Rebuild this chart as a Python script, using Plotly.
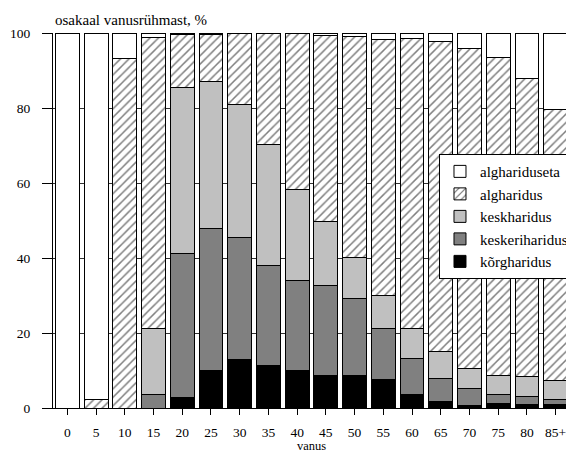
import plotly.graph_objects as go

vanus = ["0", "5", "10", "15", "20", "25", "30", "35", "40", "45",
         "50", "55", "60", "65", "70", "75", "80", "85+"]

korgharidus = [0, 0, 0, 0, 2.7, 9.9, 12.9, 11.3, 9.9, 8.8,
               8.6, 7.6, 3.7, 1.8, 0.6, 1.2, 1.0, 0.9]
keskeriharidus = [0, 0, 0, 3.7, 38.4, 38.0, 32.5, 26.7, 24.2, 23.8,
                  20.6, 13.6, 9.6, 6.2, 4.6, 2.5, 2.0, 1.4]
keskharidus = [0, 0, 0, 17.6, 44.5, 39.1, 35.5, 32.3, 24.1, 17.2,
               10.9, 8.9, 7.9, 7.0, 5.3, 5.1, 5.5, 5.1]
algharidus = [0, 2.2, 93.2, 77.6, 14.0, 12.7, 18.9, 29.6, 41.6, 49.6,
              59.1, 68.1, 77.3, 82.7, 85.5, 84.7, 79.4, 72.3]
alghariduseta = [100, 97.8, 6.8, 1.1, 0.4, 0.3, 0.2, 0.1, 0.2, 0.6,
                 0.8, 1.8, 1.5, 2.3, 4.0, 6.5, 12.1, 20.3]

FONT = "Liberation Serif, Times New Roman, serif"

fig = go.Figure()

series = [
    ("kõrgharidus", korgharidus, "#000000", None),
    ("keskeriharidus", keskeriharidus, "#808080", None),
    ("keskharidus", keskharidus, "#c0c0c0", None),
    ("algharidus", algharidus, "#ffffff", "/"),
    ("alghariduseta", alghariduseta, "#ffffff", None),
]

for i, (name, vals, color, hatch) in enumerate(series):
    marker = dict(color=color, line=dict(color="black", width=1))
    if hatch:
        marker["pattern"] = dict(shape=hatch, fgcolor="black", bgcolor="white",
                                 size=6, solidity=0.25)
    fig.add_trace(go.Bar(x=vanus, y=vals, name=name, marker=marker,
                         legendgroup=f"g{i}"))

# page body has an 8px margin, so the figure is a bit smaller than the window
fig.update_layout(
    width=566, height=447,
    margin=dict(l=45, r=0, t=25, b=47),
    barmode="stack",
    bargap=0.17,
    plot_bgcolor="white",
    paper_bgcolor="white",
    font=dict(family=FONT, size=13.5, color="black"),
    showlegend=True,
    legend=dict(
        x=0.7466, y=0.677, xanchor="left", yanchor="top",
        traceorder="reversed",
        bgcolor="white", bordercolor="black", borderwidth=1,
        tracegroupgap=10,
        font=dict(family=FONT, size=15),
    ),
    annotations=[
        dict(text="osakaal vanusrühmast, %", xref="paper", yref="paper",
             x=0, y=1.0, yshift=3, xanchor="left", yanchor="bottom",
             showarrow=False, font=dict(family=FONT, size=15)),
        dict(text="vanus", xref="paper", yref="paper",
             x=0.5, y=-0.1253, xanchor="center", yanchor="bottom",
             showarrow=False, font=dict(family=FONT, size=12.5)),
    ],
)

fig.update_xaxes(
    automargin=False,
    showline=True, linecolor="black", linewidth=1,
    ticks="outside", ticklen=6, tickcolor="black",
    ticklabelstandoff=6,
    showgrid=False,
)
fig.update_yaxes(
    automargin=False,
    range=[0, 100],
    tickvals=[0, 20, 40, 60, 80, 100],
    showline=True, linecolor="black", linewidth=1,
    ticks="outside", ticklen=10, tickcolor="black",
    ticklabelstandoff=9,
    showgrid=True, gridcolor="#333333", gridwidth=1,
    zeroline=False,
)

fig.write_html("out.html")
